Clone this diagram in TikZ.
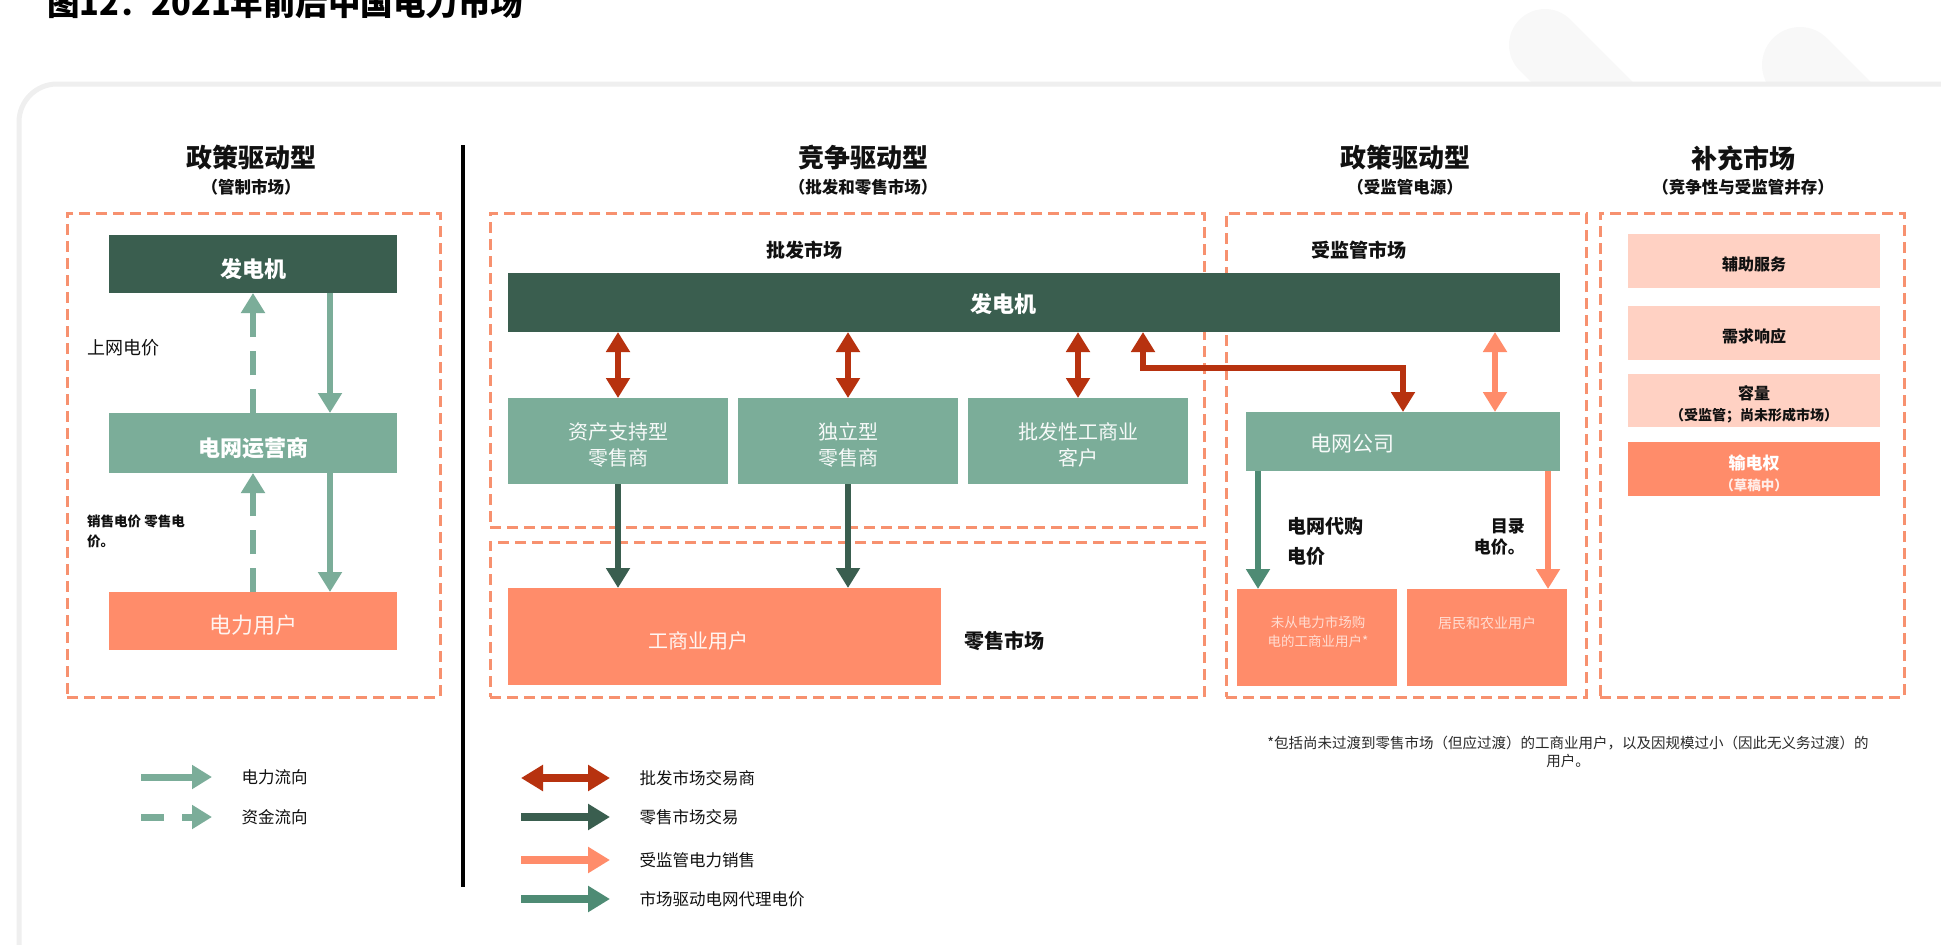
\documentclass[tikz,border=0pt]{standalone}
\usepackage{fontspec}
\setmainfont{Noto Sans CJK SC}
\usetikzlibrary{arrows.meta}
\definecolor{dkgreen}{HTML}{3A5E4F}
\definecolor{sage}{HTML}{7BAD99}
\definecolor{salmon}{HTML}{FF8C6A}
\definecolor{lsalmon}{HTML}{FFD1C3}
\definecolor{redarr}{HTML}{B7320F}
\definecolor{midgreen}{HTML}{4E8B74}
\definecolor{dashcol}{HTML}{F7916F}
\definecolor{panelgray}{HTML}{EFEFEF}
\definecolor{wmgray}{HTML}{F8F8F8}
\definecolor{txt}{HTML}{111111}
\newcommand{\fz}[2]{\fontsize{#1pt}{#2pt}\selectfont}
\tikzset{
  box/.style={inner sep=0pt, outer sep=0pt, anchor=north west},
  dgbox/.style={box, fill=dkgreen},
  sgbox/.style={box, fill=sage},
  sabox/.style={box, fill=salmon},
  lsbox/.style={box, fill=lsalmon},
  dashbox/.style={box, draw=dashcol, line width=3pt, dash pattern=on 11pt off 6pt},
  boldw/.style={text=white, font=\bfseries\fz{22}{26}},
  lightw/.style={text=white!94!sage, font=\fz{20}{26}, align=center},
  head/.style={text=txt, font=\bfseries\fz{26}{26}},
  subhead/.style={text=txt, font=\bfseries\fz{16.5}{17}},
  lbl/.style={text=txt, font=\bfseries\fz{19}{19}},
  suptxt/.style={text=txt, font=\bfseries\fz{16}{21}, align=center},
  legtxt/.style={text=txt, font=\fz{16.5}{17}, anchor=west},
  sagearr/.style={draw=sage, line width=6.5pt, -{Triangle[width=23pt,length=20pt]}},
  sagedash/.style={sagearr, dash pattern=on 24pt off 14pt},
  redbi/.style={draw=redarr, line width=6.5pt, line join=miter, {Triangle[width=23pt,length=20pt]}-{Triangle[width=23pt,length=20pt]}},
  salbi/.style={draw=salmon, line width=6.5pt, {Triangle[width=23pt,length=20pt]}-{Triangle[width=23pt,length=20pt]}},
  darr/.style={draw=dkgreen, line width=6.5pt, -{Triangle[width=23pt,length=20pt]}},
  salarr/.style={draw=salmon, line width=6.5pt, -{Triangle[width=23pt,length=20pt]}},
  mgarr/.style={draw=midgreen, line width=6.5pt, -{Triangle[width=23pt,length=20pt]}},
  lgline/.style={line width=8pt}
}
\begin{document}
\begin{tikzpicture}[x=1pt,y=-1pt]
\useasboundingbox (0,0) rectangle (1941,945);
% background marks
\draw[wmgray, line width=72pt, line cap=round] (1545,45) -- (1650,150);
\draw[wmgray, line width=76pt, line cap=round] (1800,65) -- (1900,165);
% panel
\draw[draw=panelgray, line width=5pt, fill=white, rounded corners=38pt] (19,84) rectangle (1985,985);
% title
\node[anchor=base west, text=black, font=\bfseries\fz{32.5}{33}, inner sep=0pt] (title) at (47,15) {图12：2021年前后中国电力市场};

% headings
\node[head] (h1) at (251,158) {政策驱动型};
\node[subhead] (h1s) at (251,187) {（管制市场）};
\node[head] (h2) at (863,158) {竞争驱动型};
\node[subhead] (h2s) at (863,187) {（批发和零售市场）};
\node[head] (h3) at (1405,158) {政策驱动型};
\node[subhead] (h3s) at (1405,187) {（受监管电源）};
\node[head] (h4) at (1743,158) {补充市场};
\node[subhead] (h4s) at (1743,187) {（竞争性与受监管并存）};

% separator
\coordinate (sepT) at (463,145);
\coordinate (sepB) at (463,887);
\draw[black, line width=4pt] (sepT) -- (sepB);

% ---------- left column ----------
\node[dashbox, minimum width=373pt, minimum height=484pt] (dashL) at (67,213) {};
\node[dgbox, minimum width=288pt, minimum height=58pt, label={[boldw, yshift=-5pt]center:发电机}] (genL) at (109,235) {};
\node[sgbox, minimum width=288pt, minimum height=60pt, label={[boldw, yshift=-5pt]center:电网运营商}] (gridL) at (109,413) {};
\node[sabox, minimum width=288pt, minimum height=58pt, label={[text=white!90!salmon, font=\fz{22}{26}, yshift=-4pt]center:电力用户}] (userL) at (109,592) {};
\draw[sagedash] ([xshift=144pt]gridL.north west) -- ([xshift=144pt]genL.south west);
\draw[sagearr] ([xshift=221pt]genL.south west) -- ([xshift=221pt]gridL.north west);
\draw[sagedash] ([xshift=144pt]userL.north west) -- ([xshift=144pt]gridL.south west);
\draw[sagearr] ([xshift=221pt]gridL.south west) -- ([xshift=221pt]userL.north west);
\node[anchor=west, text=txt, font=\fz{18}{18}, inner sep=0pt] (swdj) at (87,348) {上网电价};
\node[anchor=north west, align=left, text=txt, font=\bfseries\fz{13.5}{20}, inner sep=0pt] (xsdj) at (87,515) {销售电价 零售电\\价。};

% ---------- competition column ----------
\node[dashbox, minimum width=714pt, minimum height=314pt] (dashW) at (490,213) {};
\node[dashbox, minimum width=714pt, minimum height=155pt] (dashR) at (490,542) {};
\node[dashbox, minimum width=360pt, minimum height=484pt] (dashP) at (1226,213) {};
\node[dashbox, minimum width=304pt, minimum height=484pt] (dashS) at (1600,213) {};

\node[lbl] (pfsc) at (804,250) {批发市场};
\node[lbl] (jgsc) at (1359,250) {受监管市场};

\node[dgbox, minimum width=1052pt, minimum height=59pt] (bar) at (508,273) {};
\node[boldw] (barlbl) at (1003,304) {发电机};

\node[sgbox, minimum width=220pt, minimum height=86pt, label={[lightw, yshift=-4pt]center:资产支持型\\零售商}] (rA) at (508,398) {};
\node[sgbox, minimum width=220pt, minimum height=86pt, label={[lightw, yshift=-4pt]center:独立型\\零售商}] (rB) at (738,398) {};
\node[sgbox, minimum width=220pt, minimum height=86pt, label={[lightw, yshift=-4pt]center:批发性工商业\\客户}] (rC) at (968,398) {};

\draw[redbi] (bar.south -| rA.north) -- (rA.north);
\draw[redbi] (bar.south -| rB.north) -- (rB.north);
\draw[redbi] (bar.south -| rC.north) -- (rC.north);

\node[sabox, minimum width=433pt, minimum height=97pt] (ind) at (508,588) {};
\node[text=white!92!salmon, font=\fz{20}{20}] (indlbl) at (698,641) {工商业用户};
\node[text=txt, font=\bfseries\fz{20}{20}] (lssc) at (1004,641) {零售市场};

\draw[darr] (rA.south) -- (rA.south |- ind.north);
\draw[darr] (rB.south) -- (rB.south |- ind.north);

% ---------- regulated column ----------
\node[sgbox, minimum width=314pt, minimum height=59pt] (gridco) at (1246,412) {};
\node[text=white!94!sage, font=\fz{21}{21}] (gridcolbl) at (1352,444) {电网公司};

\draw[redbi] ([xshift=635pt]bar.south west) -- ++(0,36) -| ([xshift=157pt]gridco.north west);
\draw[salbi] ([xshift=987pt]bar.south west) -- ([xshift=249pt]gridco.north west);

\node[sabox, minimum width=160pt, minimum height=97pt] (nb1) at (1237,589) {};
\node[sabox, minimum width=160pt, minimum height=97pt] (nb2) at (1407,589) {};
\node[text=white!70!salmon, font=\fz{13.5}{18.5}, align=center] (nb1lbl) at (1318,632) {未从电力市场购\\电的工商业用户*};
\node[text=white!70!salmon, font=\fz{14}{14}] (nb2lbl) at (1487,623) {居民和农业用户};

\draw[mgarr] ([xshift=12pt]gridco.south west) -- ([xshift=21pt]nb1.north west);
\draw[salarr] ([xshift=302pt]gridco.south west) -- ([xshift=141pt]nb2.north west);

\node[anchor=north west, align=left, text=txt, font=\bfseries\fz{19}{30}, inner sep=0pt] (dwdg) at (1287,517) {电网代购\\电价};
\node[anchor=north east, align=right, text=txt, font=\bfseries\fz{17}{21}, inner sep=0pt] (mldj) at (1525,518) {目录\\电价。};

% ---------- supplementary ----------
\node[lsbox, minimum width=252pt, minimum height=54pt, label={[suptxt, yshift=-3pt]center:辅助服务}] (s1) at (1628,234) {};
\node[lsbox, minimum width=252pt, minimum height=54pt, label={[suptxt, yshift=-3pt]center:需求响应}] (s2) at (1628,306) {};
\node[lsbox, minimum width=252pt, minimum height=53pt, label={[suptxt, yshift=-4pt]center:容量\\{\fz{14}{16}（受监管；尚未形成市场）}}] (s3) at (1628,374) {};
\node[sabox, minimum width=252pt, minimum height=54pt, label={[suptxt, text=white, yshift=-4pt]center:{\fz{17}{21}输电权}\\{\fz{13.5}{16}\color{white!85!salmon}（草稿中）}}] (s4) at (1628,442) {};

% footnote
\node[align=center, text=txt!90, font=\fz{14.5}{18}] (fn) at (1568,752) {*包括尚未过渡到零售市场（但应过渡）的工商业用户，以及因规模过小（因此无义务过渡）的\\用户。};

% ---------- legend ----------
\coordinate (l1a) at (141,777); \coordinate (l1b) at (212,777);
\coordinate (l2a) at (141,817); \coordinate (l2b) at (212,817);
\draw[sagearr, line width=7pt] (l1a) -- (l1b);
\draw[sagedash, line width=7pt, dash pattern=on 23pt off 18pt] (l2a) -- (l2b);
\node[legtxt] (lg1) at (238,777) {电力流向};
\node[legtxt] (lg2) at (238,817) {资金流向};

\coordinate (r1a) at (521,778); \coordinate (r1b) at (610,778);
\coordinate (r2a) at (521,817); \coordinate (r2b) at (610,817);
\coordinate (r3a) at (521,860); \coordinate (r3b) at (610,860);
\coordinate (r4a) at (521,899); \coordinate (r4b) at (610,899);
\draw[draw=redarr, lgline, {Triangle[width=25pt,length=22pt]}-{Triangle[width=25pt,length=22pt]}] (r1a) -- (r1b);
\draw[draw=dkgreen, lgline, -{Triangle[width=25pt,length=22pt]}] (r2a) -- (r2b);
\draw[draw=salmon, lgline, -{Triangle[width=25pt,length=22pt]}] (r3a) -- (r3b);
\draw[draw=midgreen, lgline, -{Triangle[width=25pt,length=22pt]}] (r4a) -- (r4b);
\node[legtxt] (lg3) at (636,778) {批发市场交易商};
\node[legtxt] (lg4) at (636,817) {零售市场交易};
\node[legtxt] (lg5) at (636,860) {受监管电力销售};
\node[legtxt] (lg6) at (636,899) {市场驱动电网代理电价};
\end{tikzpicture}
\end{document}
